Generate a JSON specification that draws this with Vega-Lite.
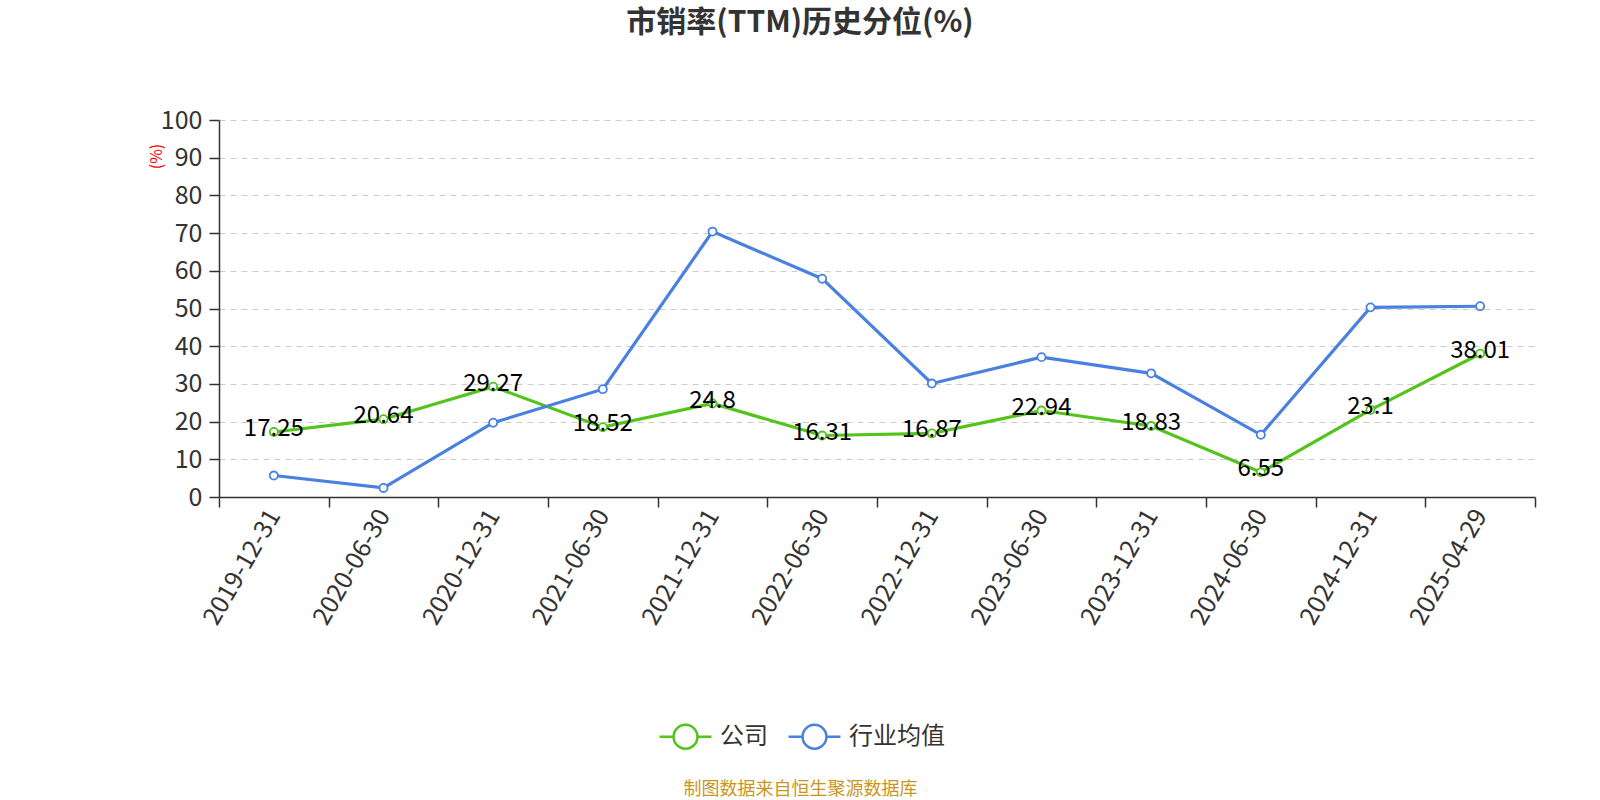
{
  "$schema": "https://vega.github.io/schema/vega-lite/v6.json",
  "autosize": {"type": "none"},
  "width": 1316,
  "height": 377,
  "padding": {"left": 219, "top": 120, "right": 65, "bottom": 303},
  "background": "white",
  "config": {
    "view": {"stroke": null},
    "font": "Noto Sans CJK SC"
  },
  "title": {
    "text": "市销率(TTM)历史分位(%)",
    "fontSize": 30,
    "fontWeight": "bold",
    "color": "#333333",
    "anchor": "middle",
    "dx": -77,
    "offset": 70
  },
  "data": {
    "values": [
      {"date": "2019-12-31", "series": "公司", "value": 17.25},
      {"date": "2020-06-30", "series": "公司", "value": 20.64},
      {"date": "2020-12-31", "series": "公司", "value": 29.27},
      {"date": "2021-06-30", "series": "公司", "value": 18.52},
      {"date": "2021-12-31", "series": "公司", "value": 24.8},
      {"date": "2022-06-30", "series": "公司", "value": 16.31},
      {"date": "2022-12-31", "series": "公司", "value": 16.87},
      {"date": "2023-06-30", "series": "公司", "value": 22.94},
      {"date": "2023-12-31", "series": "公司", "value": 18.83},
      {"date": "2024-06-30", "series": "公司", "value": 6.55},
      {"date": "2024-12-31", "series": "公司", "value": 23.1},
      {"date": "2025-04-29", "series": "公司", "value": 38.01},
      {"date": "2019-12-31", "series": "行业均值", "value": 5.7},
      {"date": "2020-06-30", "series": "行业均值", "value": 2.4},
      {"date": "2020-12-31", "series": "行业均值", "value": 19.7},
      {"date": "2021-06-30", "series": "行业均值", "value": 28.6},
      {"date": "2021-12-31", "series": "行业均值", "value": 70.4},
      {"date": "2022-06-30", "series": "行业均值", "value": 57.9},
      {"date": "2022-12-31", "series": "行业均值", "value": 30.1},
      {"date": "2023-06-30", "series": "行业均值", "value": 37.1},
      {"date": "2023-12-31", "series": "行业均值", "value": 32.8},
      {"date": "2024-06-30", "series": "行业均值", "value": 16.5},
      {"date": "2024-12-31", "series": "行业均值", "value": 50.3},
      {"date": "2025-04-29", "series": "行业均值", "value": 50.6}
    ]
  },
  "encoding": {
    "x": {
      "field": "date",
      "type": "ordinal",
      "sort": null,
      "scale": {"type": "band", "paddingInner": 0, "paddingOuter": 0},
      "axis": {
        "title": "制图数据来自恒生聚源数据库",
        "titleColor": "#c8961e",
        "titleFontSize": 18,
        "titleFontWeight": "normal",
        "titleY": 283,
        "titleX": 581,
        "titleAnchor": "middle",
        "labelAngle": -60,
        "labelFontSize": 25,
        "labelColor": "#333333",
        "labelAlign": "right",
        "labelBaseline": "middle",
        "labelPadding": 4,
        "domainColor": "#333333",
        "domainWidth": 1.5,
        "tickColor": "#333333",
        "tickSize": 10,
        "tickWidth": 1.5,
        "tickBand": "extent",
        "grid": false
      }
    },
    "y": {
      "field": "value",
      "type": "quantitative",
      "scale": {"domain": [0, 100], "nice": false},
      "axis": {
        "values": [0, 10, 20, 30, 40, 50, 60, 70, 80, 90, 100],
        "title": "(%)",
        "titleColor": "red",
        "titleFontSize": 16,
        "titleFontWeight": "normal",
        "titleAngle": -90,
        "titleX": -55,
        "titleY": 36,
        "labelFontSize": 25,
        "labelColor": "#333333",
        "labelPadding": 7,
        "domainColor": "#333333",
        "domainWidth": 1.5,
        "tickColor": "#333333",
        "tickSize": 10,
        "tickWidth": 1.5,
        "grid": true,
        "gridColor": "#cccccc",
        "gridDash": [6, 5],
        "gridWidth": 1.2
      }
    }
  },
  "layer": [
    {
      "mark": {
        "type": "line",
        "strokeWidth": 3.2,
        "point": {"filled": false, "fill": "white", "size": 65, "strokeWidth": 1.8}
      },
      "encoding": {
        "color": {
          "field": "series",
          "type": "nominal",
          "scale": {"domain": ["公司", "行业均值"], "range": ["#52c41a", "#4a80e0"]},
          "legend": {
            "title": null,
            "orient": "none",
            "direction": "horizontal",
            "legendX": 439,
            "legendY": 589,
            "labelFontSize": 24,
            "labelColor": "#333333",
            "symbolType": "M -1 0 L -0.46 0 M 0.46 0 L 1 0 M -0.46 0 A 0.46 0.46 0 1 0 0.46 0 A 0.46 0.46 0 1 0 -0.46 0",
            "symbolSize": 2700,
            "symbolStrokeWidth": 2.5,
            "symbolFillColor": "white",
            "columnPadding": 15,
            "labelOffset": 7
          }
        }
      }
    },
    {
      "transform": [{"filter": "datum.series === '公司'"}],
      "mark": {
        "type": "text",
        "fontSize": 24,
        "color": "black",
        "baseline": "middle",
        "dy": -3
      },
      "encoding": {
        "text": {"field": "value", "type": "quantitative"}
      }
    }
  ]
}
